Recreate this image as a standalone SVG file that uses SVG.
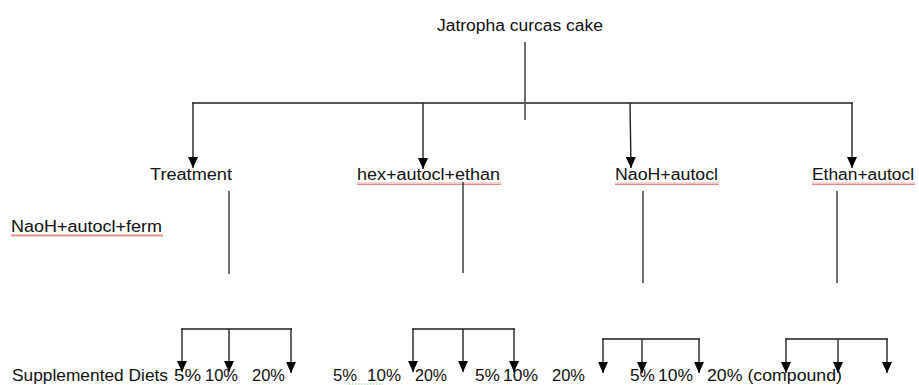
<svg xmlns="http://www.w3.org/2000/svg" width="919" height="385" viewBox="0 0 919 385">
<style>
  text { font-family: "Liberation Sans", Arial, sans-serif; font-size: 17.3px; fill: #111; }
  .ln { stroke: #333; stroke-width: 1.4; fill: none; }
  .hz { stroke: #555; stroke-width: 1.8; fill: none; }
  .arr { stroke: #222; stroke-width: 1.4; fill: none; marker-end: url(#ah); }
  .wavy { fill: url(#wv); }
</style>
<defs>
  <marker id="ah" viewBox="0 0 11 10" refX="11" refY="5" markerWidth="11" markerHeight="10" markerUnits="userSpaceOnUse" orient="auto">
    <path d="M0,0 L11,5 L0,10 z" fill="#000"/>
  </marker>
  <pattern id="wv" width="4" height="3" patternUnits="userSpaceOnUse">
    <path d="M0,2.5 L1,0.5 L2,2.5 L3,0.5 L4,2.5" stroke="#e85050" stroke-width="0.7" fill="none"/>
  </pattern>
</defs>

<g id="root">
  <text x="437" y="31" textLength="166" lengthAdjust="spacingAndGlyphs">Jatropha curcas cake</text>
</g>

<g id="treatment">
  <text x="150" y="180" textLength="82" lengthAdjust="spacingAndGlyphs">Treatment</text>
</g>
<g id="naoh-autocl-ferm">
  <text x="11" y="232" textLength="151" lengthAdjust="spacingAndGlyphs">NaoH+autocl+ferm</text>
  <rect class="wavy" x="11" y="234" width="152" height="3"/>
</g>
<g id="hex-autocl-ethan">
  <text x="357" y="180" textLength="143" lengthAdjust="spacingAndGlyphs">hex+autocl+ethan</text>
  <rect class="wavy" x="357" y="182" width="144" height="3"/>
</g>
<g id="naoh-autocl">
  <text x="615" y="180" textLength="103" lengthAdjust="spacingAndGlyphs">NaoH+autocl</text>
  <rect class="wavy" x="615" y="182" width="104" height="3"/>
</g>
<g id="ethan-autocl">
  <text x="812" y="180" textLength="102" lengthAdjust="spacingAndGlyphs">Ethan+autocl</text>
  <rect class="wavy" x="812" y="182" width="103" height="3"/>
</g>

<g id="diets">
  <text x="12" y="381" textLength="156" lengthAdjust="spacingAndGlyphs">Supplemented Diets</text>
  <text x="174" y="381" textLength="27" lengthAdjust="spacingAndGlyphs">5%</text>
  <text x="205" y="381" textLength="33" lengthAdjust="spacingAndGlyphs">10%</text>
  <text x="252" y="381" textLength="33" lengthAdjust="spacingAndGlyphs">20%</text>

  <text x="333" y="381" textLength="24" lengthAdjust="spacingAndGlyphs">5%</text>
  <text x="367" y="381" textLength="34" lengthAdjust="spacingAndGlyphs">10%</text>
  <text x="415" y="381" textLength="32" lengthAdjust="spacingAndGlyphs">20%</text>
  <line x1="349" y1="384" x2="383" y2="384" stroke="#8fc98f" stroke-width="1" stroke-dasharray="1.5,1.5"/>

  <text x="475" y="381" textLength="25" lengthAdjust="spacingAndGlyphs">5%</text>
  <text x="503" y="381" textLength="35" lengthAdjust="spacingAndGlyphs">10%</text>
  <text x="552" y="381" textLength="33" lengthAdjust="spacingAndGlyphs">20%</text>

  <text x="630" y="381" textLength="25" lengthAdjust="spacingAndGlyphs">5%</text>
  <text x="658" y="381" textLength="35" lengthAdjust="spacingAndGlyphs">10%</text>
  <text x="707" y="381" textLength="135" lengthAdjust="spacingAndGlyphs">20% (compound)</text>
</g>

<g id="connectors">
  <line class="ln" x1="525" y1="42" x2="525" y2="120"/>
  <line class="hz" x1="192" y1="103" x2="853" y2="103"/>
  <line class="arr" x1="193" y1="103" x2="193" y2="168"/>
  <line class="arr" x1="423" y1="103" x2="423" y2="169"/>
  <line class="arr" x1="630" y1="103" x2="631" y2="168"/>
  <line class="arr" x1="852" y1="103" x2="852" y2="168"/>

  <line class="ln" x1="229" y1="191" x2="229" y2="274"/>
  <line class="ln" x1="463" y1="182" x2="463" y2="273"/>
  <line class="ln" x1="643" y1="191" x2="643" y2="283"/>
  <line class="ln" x1="837" y1="191" x2="837" y2="283"/>

  <line class="hz" x1="181" y1="329" x2="292" y2="329"/>
  <line class="arr" x1="182" y1="329" x2="182" y2="372"/>
  <line class="arr" x1="229" y1="329" x2="229" y2="372"/>
  <line class="arr" x1="291" y1="329" x2="291" y2="373"/>

  <line class="hz" x1="412" y1="329" x2="515" y2="329"/>
  <line class="arr" x1="413" y1="329" x2="413" y2="372"/>
  <line class="arr" x1="463" y1="329" x2="463" y2="372"/>
  <line class="arr" x1="514" y1="329" x2="514" y2="372"/>

  <line class="hz" x1="602" y1="339" x2="700" y2="339"/>
  <line class="arr" x1="603" y1="339" x2="603" y2="373"/>
  <line class="arr" x1="642" y1="339" x2="642" y2="373"/>
  <line class="arr" x1="699" y1="339" x2="699" y2="373"/>

  <line class="hz" x1="785" y1="339" x2="888" y2="339"/>
  <line class="arr" x1="786" y1="339" x2="786" y2="373"/>
  <line class="arr" x1="838" y1="339" x2="838" y2="373"/>
  <line class="arr" x1="887" y1="339" x2="887" y2="373"/>
</g>
</svg>
